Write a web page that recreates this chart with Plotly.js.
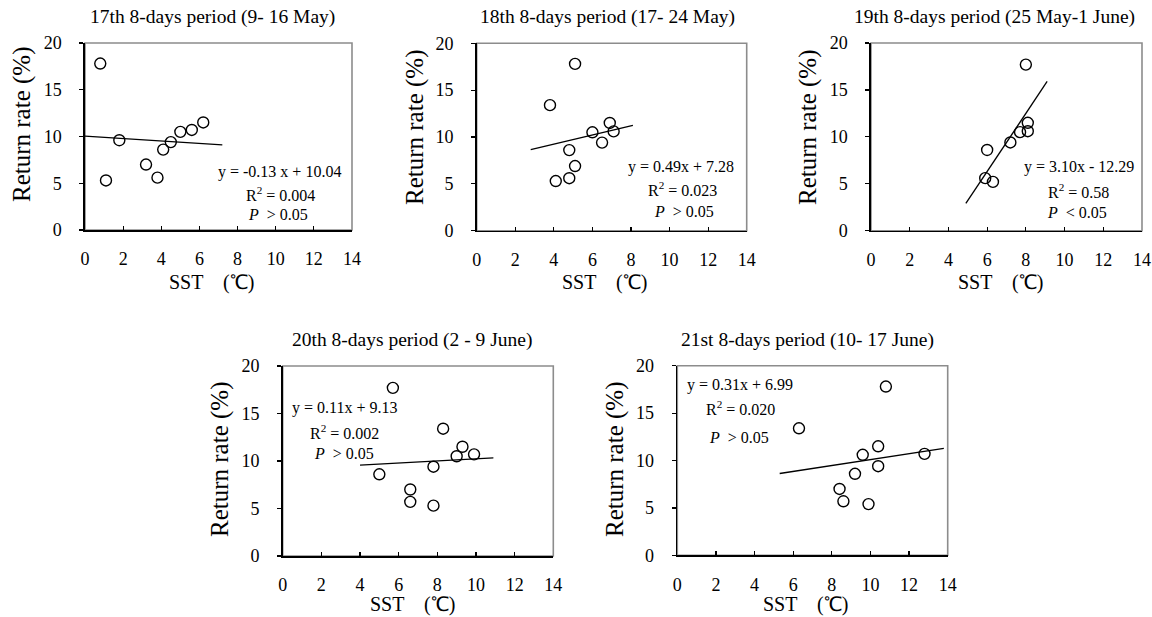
<!DOCTYPE html>
<html>
<head>
<meta charset="utf-8">
<script src="https://cdn.plot.ly/plotly-3.0.1.min.js"></script>
<style>html,body{margin:0;padding:0;background:#fff;}#chart{width:1152px;height:617px;}</style>
</head>
<body>
<div id="chart"></div>
<script>
// ---------- data ----------
const panelTitles = [
  "17th 8-days period (9- 16 May)",
  "18th 8-days period (17- 24 May)",
  "19th 8-days period (25 May-1 June)",
  "20th 8-days period (2 - 9 June)",
  "21st 8-days period (10- 17 June)"
];
const xTickVals = [0, 2, 4, 6, 8, 10, 12, 14];
const yTickVals = [0, 5, 10, 15, 20];
const xTitle = "SST\u3000(\u2103)";
const yTitle = "Return rate (%)";

const p17_sst  = [0.8, 1.1, 1.8, 3.2, 3.8, 4.1, 4.5, 5.0, 5.6, 6.2];
const p17_rate = [17.8, 5.3, 9.6, 7.0, 5.6, 8.6, 9.4, 10.5, 10.7, 11.5];
const p17_fitX = [0, 7.2];
const p17_fitY = [10.04, 9.10];
const p17_eq = ["y = -0.13 x + 10.04", "R<sup>2</sup> = 0.004", "<i>P</i>\u00a0 > 0.05"];

const p18_sst  = [5.1, 3.8, 6.9, 6.0, 7.1, 6.5, 4.8, 5.1, 4.8, 4.1];
const p18_rate = [17.8, 13.4, 11.5, 10.5, 10.6, 9.4, 8.6, 6.9, 5.6, 5.3];
const p18_fitX = [2.8, 8.1];
const p18_fitY = [8.65, 11.25];
const p18_eq = ["y = 0.49x + 7.28", "R<sup>2</sup> = 0.023", "<i>P</i>\u00a0 > 0.05"];

const p19_sst  = [8.0, 8.1, 8.1, 7.7, 7.2, 6.0, 6.3, 5.9];
const p19_rate = [17.7, 11.5, 10.6, 10.5, 9.4, 8.6, 5.2, 5.6];
const p19_fitX = [4.9, 9.1];
const p19_fitY = [2.9, 15.9];
const p19_eq = ["y = 3.10x - 12.29", "R<sup>2</sup> = 0.58", "<i>P</i>\u00a0 < 0.05"];

const p20_sst  = [5.7, 8.3, 9.3, 9.0, 9.9, 7.8, 5.0, 6.6, 6.6, 7.8];
const p20_rate = [17.7, 13.4, 11.5, 10.5, 10.7, 9.4, 8.6, 7.0, 5.7, 5.3];
const p20_fitX = [4.0, 10.9];
const p20_fitY = [9.57, 10.33];
const p20_eq = ["y = 0.11x + 9.13", "R<sup>2</sup> = 0.002", "<i>P</i>\u00a0 > 0.05"];

const p21_sst  = [10.8, 6.3, 10.4, 9.6, 12.8, 10.4, 9.2, 8.4, 8.6, 9.9];
const p21_rate = [17.8, 13.4, 11.5, 10.6, 10.7, 9.4, 8.6, 7.0, 5.7, 5.4];
const p21_fitX = [5.3, 13.8];
const p21_fitY = [8.63, 11.27];
const p21_eq = ["y = 0.31x + 6.99", "R<sup>2</sup> = 0.020", "<i>P</i>\u00a0 > 0.05"];

// ---------- layout (pixel geometry of the page) ----------
const W = 1152, H = 617;
const fx = px => px / W;
const fy = py => 1 - py / H;
const FONT = "Liberation Serif, Times New Roman, serif";

const panels = [
  {sst: p17_sst, rate: p17_rate, fx: p17_fitX, fy: p17_fitY, eq: p17_eq,
   box: [85, 352, 43, 230], title: [212, 17], xt: [211, 282], yt: [22, 125],
   eqPos: [[279, 172], [280, 194], [278, 215]]},
  {sst: p18_sst, rate: p18_rate, fx: p18_fitX, fy: p18_fitY, eq: p18_eq,
   box: [476.7, 746.7, 43.3, 230.7], title: [607, 17], xt: [604, 282], yt: [415, 128],
   eqPos: [[681, 167], [682, 189], [684, 211]]},
  {sst: p19_sst, rate: p19_rate, fx: p19_fitX, fy: p19_fitY, eq: p19_eq,
   box: [871, 1142, 43, 230.7], title: [994, 17], xt: [1000, 282], yt: [808, 128],
   eqPos: [[1079, 167], [1078, 191], [1077, 212]]},
  {sst: p20_sst, rate: p20_rate, fx: p20_fitX, fy: p20_fitY, eq: p20_eq,
   box: [282.7, 553.3, 366, 556], title: [412, 340], xt: [412, 604], yt: [220, 460],
   eqPos: [[344, 408], [344, 432], [344, 453]]},
  {sst: p21_sst, rate: p21_rate, fx: p21_fitX, fy: p21_fitY, eq: p21_eq,
   box: [677.3, 947.7, 365.7, 555.3], title: [807, 340], xt: [805, 604], yt: [615, 460],
   eqPos: [[740, 385], [740, 408], [739, 437]]}
];

const data = [];
const layout = {
  width: W, height: H,
  margin: {l: 0, r: 0, t: 0, b: 0},
  paper_bgcolor: "#ffffff",
  plot_bgcolor: "#ffffff",
  showlegend: false,
  font: {family: FONT, color: "#000000", size: 17},
  annotations: [],
  shapes: []
};

panels.forEach((p, i) => {
  const n = i + 1;
  const xa = n === 1 ? "x" : "x" + n;
  const ya = n === 1 ? "y" : "y" + n;
  const xk = n === 1 ? "xaxis" : "xaxis" + n;
  const yk = n === 1 ? "yaxis" : "yaxis" + n;
  const [l, r, t, b] = p.box;

  layout[xk] = {
    domain: [fx(l), fx(r)], anchor: ya, range: [0, 14],
    tickvals: xTickVals, ticktext: xTickVals.map(String),
    ticks: "inside", ticklen: 4, tickwidth: 1.2, tickcolor: "#000",
    showline: true, linecolor: "#000", linewidth: 1.6,
    showgrid: false, zeroline: false, fixedrange: true,
    tickfont: {family: FONT, size: 18, color: "#000"},
    ticklabelstandoff: 12
  };
  layout[yk] = {
    domain: [fy(b), fy(t)], anchor: xa, range: [0, 20],
    tickvals: yTickVals, ticktext: yTickVals.map(String),
    ticks: "outside", ticklen: 4, tickwidth: 1.2, tickcolor: "#000",
    showline: true, linecolor: "#000", linewidth: 1.6,
    showgrid: false, zeroline: false, fixedrange: true,
    tickfont: {family: FONT, size: 18, color: "#000"},
    ticklabelstandoff: 14
  };

  // gray frame (top/right)
  layout.shapes.push({
    type: "rect", xref: xa + " domain", yref: ya + " domain",
    x0: 0, x1: 1, y0: 0, y1: 1, layer: "below",
    line: {color: "#8c8c8c", width: 1.6}, fillcolor: "rgba(0,0,0,0)"
  });

  data.push({
    type: "scatter", mode: "lines", x: p.fx, y: p.fy,
    xaxis: xa, yaxis: ya, line: {color: "#000", width: 1.3},
    hoverinfo: "skip"
  });
  data.push({
    type: "scatter", mode: "markers", x: p.sst, y: p.rate,
    xaxis: xa, yaxis: ya, cliponaxis: false,
    marker: {symbol: "circle-open", size: 11, color: "#000", line: {width: 1.4, color: "#000"}}
  });

  // panel title
  layout.annotations.push({
    text: panelTitles[i], xref: "paper", yref: "paper",
    x: fx(p.title[0]), y: fy(p.title[1]), xanchor: "center", yanchor: "middle",
    showarrow: false, font: {family: FONT, size: 19.5, color: "#000"}
  });
  // x title
  layout.annotations.push({
    text: xTitle, xref: "paper", yref: "paper",
    x: fx(p.xt[0]), y: fy(p.xt[1]), xanchor: "center", yanchor: "middle",
    showarrow: false, font: {family: FONT, size: 20, color: "#000"}
  });
  // y title
  layout.annotations.push({
    text: yTitle, xref: "paper", yref: "paper", textangle: -90,
    x: fx(p.yt[0]), y: fy(p.yt[1]), xanchor: "center", yanchor: "middle",
    showarrow: false, font: {family: FONT, size: 25, color: "#000"}
  });
  // equation block
  p.eq.forEach((txt, k) => {
    layout.annotations.push({
      text: txt, xref: "paper", yref: "paper",
      x: fx(p.eqPos[k][0]), y: fy(p.eqPos[k][1]), xanchor: "center", yanchor: "middle",
      showarrow: false, font: {family: FONT, size: 16, color: "#000"}
    });
  });
});

Plotly.newPlot("chart", data, layout, {displayModeBar: false, staticPlot: true});
</script>
</body>
</html>
